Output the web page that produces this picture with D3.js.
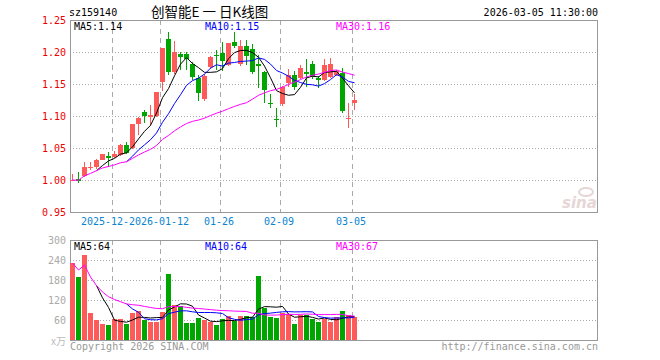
<!DOCTYPE html>
<html><head><meta charset="utf-8">
<script src="https://cdn.jsdelivr.net/npm/d3@7"></script>
<style>body{margin:0;background:#fff} svg{display:block}</style>
</head><body><svg id="c" width="660" height="360"></svg>
<script>
// ---------- data ----------
const dates = ["2025-12-18","2025-12-19","2025-12-22","2025-12-23","2025-12-24","2025-12-25","2025-12-26","2025-12-29","2025-12-30","2025-12-31",
"2026-01-05","2026-01-06","2026-01-07","2026-01-08","2026-01-09","2026-01-12","2026-01-13","2026-01-14","2026-01-15","2026-01-16",
"2026-01-19","2026-01-20","2026-01-21","2026-01-22","2026-01-23","2026-01-26","2026-01-27","2026-01-28","2026-01-29","2026-01-30",
"2026-02-02","2026-02-03","2026-02-04","2026-02-05","2026-02-06","2026-02-09","2026-02-10","2026-02-11","2026-02-12","2026-02-13",
"2026-02-24","2026-02-25","2026-02-26","2026-02-27","2026-03-02","2026-03-03","2026-03-04","2026-03-05"];
const openP  = [1.000,1.001,1.006,1.020,1.021,1.032,1.037,1.036,1.039,1.054,1.050,1.087,1.106,1.099,1.100,1.153,1.220,1.168,1.197,1.197,
1.181,1.160,1.127,1.176,1.196,1.198,1.180,1.216,1.181,1.209,1.205,1.182,1.168,1.121,1.095,1.119,1.152,1.164,1.160,1.168,
1.181,1.160,1.157,1.161,1.164,1.167,1.096,1.121];
const highP  = [1.009,1.013,1.028,1.028,1.033,1.041,1.043,1.045,1.057,1.059,1.087,1.099,1.110,1.117,1.138,1.207,1.232,1.217,1.200,1.200,
1.185,1.164,1.166,1.194,1.203,1.216,1.214,1.231,1.219,1.219,1.212,1.195,1.170,1.135,1.112,1.147,1.173,1.170,1.179,1.189,
1.186,1.162,1.189,1.190,1.172,1.175,1.121,1.135];
const lowP   = [0.999,0.996,1.004,1.015,1.017,1.031,1.021,1.034,1.038,1.040,1.048,1.071,1.089,1.085,1.099,1.139,1.164,1.166,1.172,1.172,
1.157,1.124,1.124,1.174,1.172,1.171,1.178,1.206,1.178,1.180,1.165,1.143,1.121,1.112,1.083,1.115,1.146,1.141,1.158,1.146,
1.158,1.143,1.155,1.160,1.162,1.105,1.081,1.110];
const closeP = [1.000,0.999,1.021,1.021,1.032,1.040,1.035,1.041,1.054,1.042,1.087,1.097,1.100,1.101,1.138,1.207,1.168,1.200,1.192,1.189,
1.161,1.136,1.163,1.192,1.193,1.186,1.214,1.210,1.209,1.194,1.168,1.178,1.141,1.118,1.093,1.146,1.164,1.146,1.175,1.166,
1.161,1.157,1.180,1.181,1.170,1.108,1.097,1.125];
const volume = [231,189,255,81,60,48,45,63,63,48,81,87,60,54,54,84,198,105,102,51,
51,66,60,54,45,63,72,57,72,72,69,192,96,69,66,81,78,48,75,75,
63,54,63,54,69,87,75,69];
const priceTicks = [1.25,1.20,1.15,1.10,1.05,1.00,0.95];
const volTicks = [300,240,180,120,60];
const dateTickIdx = [7,15,25,35,47];
// the first label is partly hidden behind the second in the original; only "2025-12-" shows
const dateTickLabels = ["2025-12-","2026-01-12","01-26","02-09","03-05"];
const maLabelsPrice = ["MA5:1.14","MA10:1.15","MA30:1.16"];
const maLabelsVol = ["MA5:64","MA10:64","MA30:67"];

// ---------- styles ----------
const RED="#ff5a5a", GREEN="#00a600", GRID="#aaaaaa", FRAME="#999999";
const MA_COLORS=["#000000","#0000ff","#ff00ff"];
const MONO="'DejaVu Sans Mono', monospace";

const svg = d3.select("#c");
const L=70, R=598, SLOTS=88;
const x = d3.scaleBand().domain(d3.range(SLOTS)).range([L,R]).padding(0);
const yP = d3.scaleLinear().domain([0.95,1.25]).range([212,20]);
const yV = d3.scaleLinear().domain([0,300]).range([340,240]);
const cx = i => x(i)+2.5;

function ma(arr,n,cum){
  return arr.map((v,i)=>{
    if(i<n-1) return cum? d3.mean(arr.slice(0,i+1)) : null;
    return d3.mean(arr.slice(i-n+1,i+1));
  });
}

// header
svg.append("text").attr("x",69).attr("y",16).attr("font-family",MONO).attr("font-size",10).attr("fill","#000").text("sz159140");
svg.append("text").attr("x",151).attr("y",17).attr("font-family","'Noto Sans CJK SC',sans-serif").attr("font-size",13.5).attr("fill","#000").text("创智能E 一 日K线图");
svg.append("text").attr("x",598).attr("y",16).attr("text-anchor","end").attr("font-family",MONO).attr("font-size",10).attr("fill","#000").text("2026-03-05 11:30:00");

// watermark
const wm = svg.append("g").attr("transform","translate(562,208)");
wm.append("text").attr("x",0).attr("y",0).attr("font-family","'DejaVu Sans',sans-serif").attr("font-style","italic").attr("font-weight","bold").attr("font-size",15).attr("fill","#e6d6d6").text("sina");
wm.append("ellipse").attr("cx",24).attr("cy",-16).attr("rx",7).attr("ry",4).attr("fill","none").attr("stroke","#e6d6d6").attr("stroke-width",2);

function panel(y0,y1,scale,ticks,fmt,labColor){
  const g=svg.append("g");
  ticks.forEach(t=>{
    const yy=Math.round(scale(t))+0.5;
    if(yy>y0+1 && yy<y1-1)
      g.append("line").attr("x1",L).attr("x2",R-1).attr("y1",yy).attr("y2",yy)
       .attr("stroke",GRID).attr("stroke-dasharray","1,2");
    g.append("text").attr("x",66).attr("y",scale(t)+3.5).attr("text-anchor","end")
     .attr("font-family",MONO).attr("font-size",10).attr("fill",labColor).text(fmt(t));
  });
  dateTickIdx.forEach(i=>{
    g.append("line").attr("x1",x(i)+0.5).attr("x2",x(i)+0.5).attr("y1",y0).attr("y2",y1)
     .attr("stroke",GRID).attr("stroke-dasharray","5,4");
  });
  g.append("rect").attr("x",L+0.5).attr("y",y0+0.5).attr("width",R-L-1).attr("height",y1-y0)
   .attr("fill","none").attr("stroke",FRAME);
  return g;
}
panel(20,212,yP,priceTicks,d=>d.toFixed(2),"#ee0000");
panel(240,340,yV,volTicks,d=>String(d),"#aaaaaa");
svg.append("text").attr("x",66).attr("y",345).attr("text-anchor","end").attr("font-family","'Noto Sans CJK SC',sans-serif").attr("font-size",10).attr("fill","#bbbbbb").text("x万");

// date labels
dateTickIdx.forEach((i,k)=>{
  const t=dateTickLabels[k];
  if(k===0){
    svg.append("text").attr("x",x(i)-1-30.1).attr("y",225).attr("text-anchor","start").attr("font-family",MONO)
     .attr("font-size",10).attr("fill","#0a84d0").text(t);
  } else {
    svg.append("text").attr("x",x(i)-1).attr("y",225).attr("text-anchor","middle").attr("font-family",MONO)
     .attr("font-size",10).attr("fill","#0a84d0").text(t);
  }
});

// candles
const idx=d3.range(dates.length);
const cg=svg.append("g").attr("shape-rendering","crispEdges");
idx.forEach(i=>{
  const up=closeP[i]>=openP[i], col=up?RED:GREEN;
  cg.append("line").attr("x1",cx(i)).attr("x2",cx(i)).attr("y1",yP(highP[i])).attr("y2",yP(lowP[i])).attr("stroke",col);
  const top=yP(Math.max(openP[i],closeP[i])), bot=yP(Math.min(openP[i],closeP[i]));
  cg.append("rect").attr("x",x(i)).attr("y",top).attr("width",5).attr("height",Math.max(1,bot-top)).attr("fill",col);
});
// volume bars
const vg=svg.append("g").attr("shape-rendering","crispEdges");
idx.forEach(i=>{
  const up=closeP[i]>=openP[i];
  vg.append("rect").attr("x",x(i)).attr("y",yV(volume[i])).attr("width",5).attr("height",yV(0)-yV(volume[i]))
   .attr("fill",up?RED:GREEN);
});

// MA lines
function maLines(arr,scale){
  [[5,false],[10,false],[30,true]].forEach(([n,cum],k)=>{
    const m=ma(arr,n,cum);
    const line=d3.line().defined(d=>d!=null).x((d,i)=>cx(i)).y(d=>scale(d));
    svg.append("path").attr("d",line(m)).attr("fill","none").attr("stroke",MA_COLORS[k]).attr("stroke-width",1);
  });
}
maLines(closeP,yP);
maLines(volume,yV);

// MA labels
const maX=[74,205,336];
maLabelsPrice.forEach((t,k)=>svg.append("text").attr("x",maX[k]).attr("y",30).attr("font-family",MONO).attr("font-size",10).attr("fill",MA_COLORS[k]).text(t));
maLabelsVol.forEach((t,k)=>svg.append("text").attr("x",maX[k]).attr("y",250).attr("font-family",MONO).attr("font-size",10).attr("fill",MA_COLORS[k]).text(t));

// footer
svg.append("text").attr("x",70).attr("y",350).attr("font-family",MONO).attr("font-size",10).attr("fill","#999").text("Copyright 2026 SINA.COM");
svg.append("text").attr("x",598).attr("y",350).attr("text-anchor","end").attr("font-family",MONO).attr("font-size",10).attr("fill","#999").text("http://finance.sina.com.cn");
</script></body></html>
